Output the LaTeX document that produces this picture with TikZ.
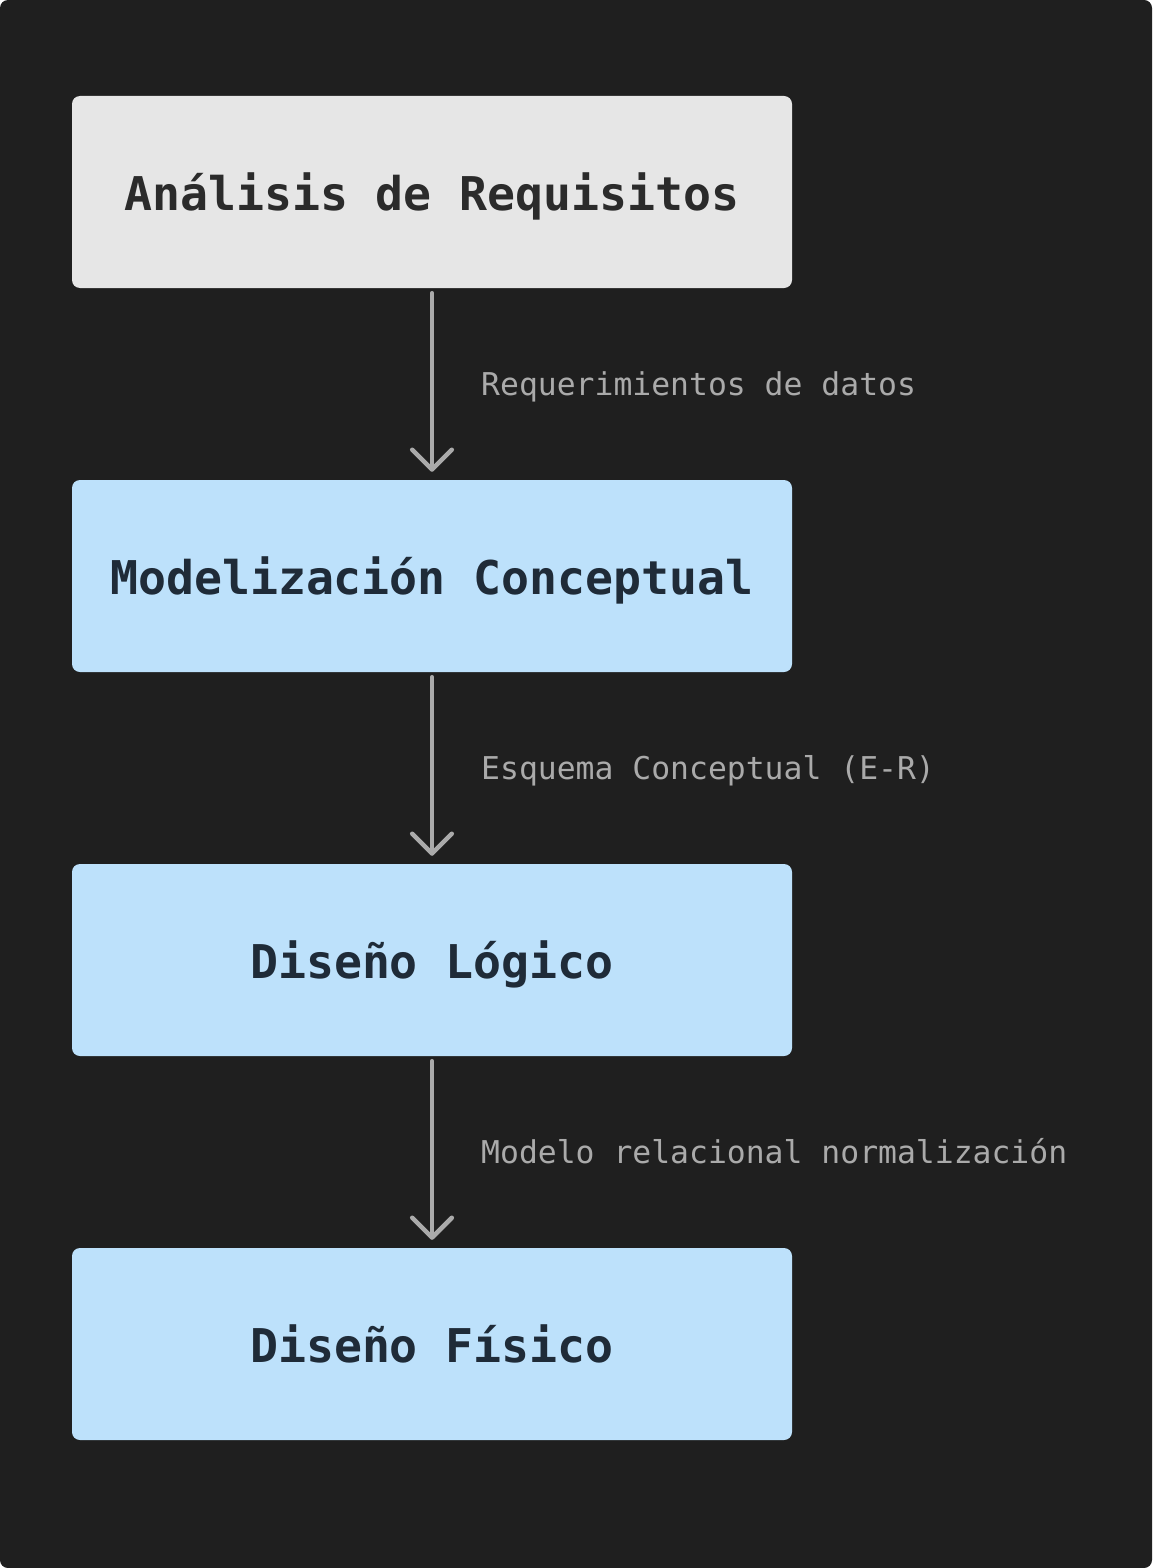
\documentclass[tikz,border=0pt]{standalone}
\usepackage{fontspec}
\setmonofont{DejaVu Sans Mono}
\usetikzlibrary{arrows.meta}
\definecolor{bgc}{HTML}{1F1F1F}
\definecolor{greybox}{HTML}{E6E6E6}
\definecolor{bluebox}{HTML}{BDE1FB}
\definecolor{txtdark}{HTML}{2B2B2B}
\definecolor{txtblue}{HTML}{1F2B38}
\definecolor{arrc}{HTML}{AAAAAA}
\tikzset{
  stage/.style={rectangle, rounded corners=8pt, minimum width=720pt, minimum height=192pt, inner sep=0pt,
    text height=36pt, text depth=0pt,
    font=\ttfamily\bfseries\fontsize{46.5}{46.5}\selectfont},
  firststage/.style={stage, fill=greybox, text=txtdark},
  bluestage/.style={stage, fill=bluebox, text=txtblue},
  flow/.style={draw=arrc, line width=4.5pt, line cap=round, shorten <=5pt, shorten >=8pt,
    -{Straight Barb[angle=90:28pt, round]}},
  lbl/.style={anchor=base west, inner sep=0pt, text=arrc, font=\ttfamily\fontsize{31.4}{31.4}\selectfont}
}
\begin{document}
\begin{tikzpicture}[x=1pt,y=-1pt]
\fill[bgc, rounded corners=8pt] (0,0) rectangle (1152,1568);
\useasboundingbox (0,0) rectangle (1152,1568);
\node[firststage] (a) at (432,192) {Análisis de Requisitos};
\node[bluestage] (b) at (432,576) {Modelización Conceptual};
\node[bluestage] (c) at (432,960) {Diseño Lógico};
\node[bluestage] (d) at (432,1344) {Diseño Físico};
\draw[flow] (a) -- (b);
\draw[flow] (b) -- (c);
\draw[flow] (c) -- (d);
\node[lbl] (la) at (481,395) {Requerimientos de datos};
\node[lbl] (lb) at (481,779) {Esquema Conceptual (E-R)};
\node[lbl] (lc) at (481,1163) {Modelo relacional normalización};
\end{tikzpicture}
\end{document}
